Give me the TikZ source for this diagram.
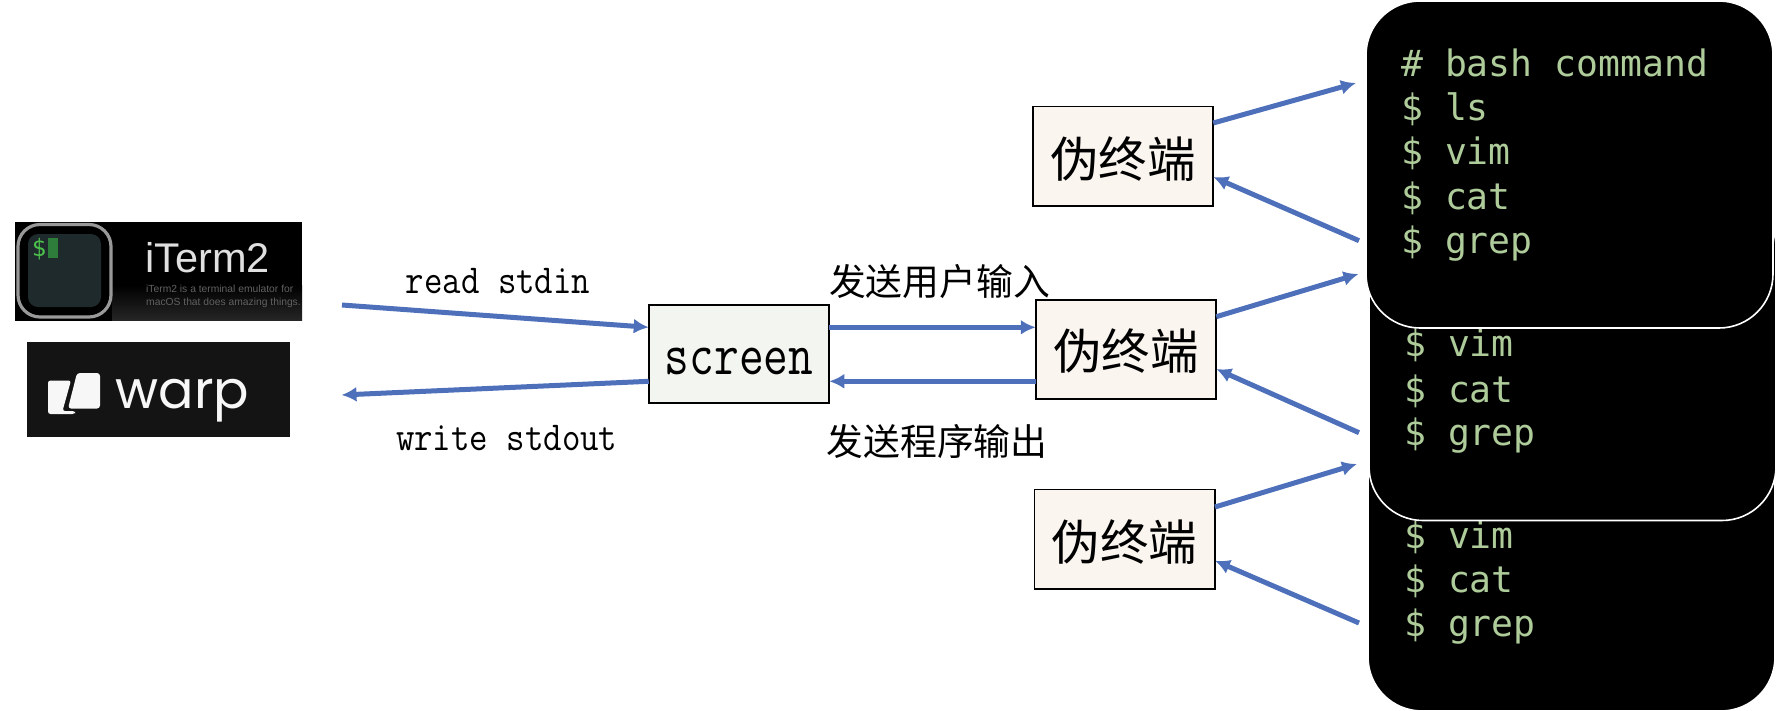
\documentclass[tikz,border=0pt]{standalone}
\usepackage{graphicx}
\usepackage{fontspec}
\usetikzlibrary{arrows.meta}
\newfontfamily\cjkfont{Noto Sans CJK SC}
\newfontfamily\termfont{DejaVu Sans Mono}
\newfontfamily\arialfont{Liberation Sans}
\newfontfamily\warpfont{Poppins}
\definecolor{flowblue}{HTML}{4E70BA}
\definecolor{ptyfill}{HTML}{FBF5F0}
\definecolor{screenfill}{HTML}{F3F6F0}
\definecolor{termgreen}{HTML}{AECB9A}
\definecolor{iconpanel}{HTML}{1F2A2C}
\definecolor{icondollar}{HTML}{4CC24C}
\definecolor{iconcursor}{HTML}{2F7D3A}
\tikzset{
  x=1pt,y=-1pt,
  flow/.style={draw=flowblue,line width=5pt,-{Latex[length=15pt,width=15pt]}},
  boxnode/.style={draw=black,line width=1.7pt,inner sep=0pt,outer sep=0pt,minimum width=#1},
  ptybox/.style={boxnode=180.5pt,minimum height=99.5pt,fill=ptyfill,font=\cjkfont\fontsize{48.5}{48.5}\selectfont},
  screenbox/.style={boxnode=180.5pt,minimum height=98pt,fill=screenfill,font=\ttfamily\fontsize{48}{48}\selectfont},
  termbox/.style={fill=black,draw=white,line width=1.6pt,rounded corners=54pt,inner sep=0pt,outer sep=0pt,minimum width=407pt,minimum height=327pt},
  termline/.style={anchor=base west,inner sep=0pt,text=termgreen,font=\termfont\fontsize{36.4}{36.4}\selectfont},
  monolabel/.style={inner sep=0pt,font=\ttfamily\fontsize{35.8}{35.8}\selectfont},
  cjklabel/.style={inner sep=0pt,font=\cjkfont\fontsize{36.8}{36.8}\selectfont},
  logobg/.style={inner sep=0pt,outer sep=0pt},
}
\newcommand{\tallertext}[2][1.15]{\scalebox{1}[#1]{#2}}
\newcommand{\dropbase}[2]{\raisebox{#1}[0pt][0pt]{#2}}
\begin{document}
\begin{tikzpicture}
\useasboundingbox (0,0) rectangle (1786,710);
% iTerm2 logo
\node[logobg,fill=black,minimum width=287pt,minimum height=98.7pt] (itermbg) at (158.5,271.3) {};
\shade[top color=black,bottom color=black!85!white] (112,285) rectangle (302,320.6);
\draw[line width=3.2pt,draw=black!40!white,fill=black,rounded corners=22pt] (18,224.5) rectangle (111,317);
\fill[iconpanel,rounded corners=10pt] (28,234) rectangle (101,307);
\node[inner sep=0pt,text=icondollar,font=\termfont\fontsize{24}{24}\selectfont] (dollar) at (39,249) {\$};
\fill[iconcursor] (48,238) rectangle (58,258);
\node[anchor=base west,inner sep=0pt,text=black!12!white,font=\arialfont\fontsize{41.5}{41.5}\selectfont] (itermname) at (145,272) {iTerm2};
\node[anchor=base west,inner sep=0pt,text=black!62!white,font=\arialfont\fontsize{10.3}{10.3}\selectfont] (itermsub1) at (146,292) {iTerm2 is a terminal emulator for};
\node[anchor=base west,inner sep=0pt,text=black!62!white,font=\arialfont\fontsize{10.3}{10.3}\selectfont] (itermsub2) at (146,305) {macOS that does amazing things.};
% warp logo
\node[logobg,fill=black!92!white,minimum width=263pt,minimum height=94.7pt] (warpbg) at (158.5,389.3) {};
\fill[black!3!white,rounded corners=2.5pt] (48,380.5) -- (71,380.5) -- (62.5,411) -- (75,411) -- (75,414) -- (48,414) -- cycle;
\fill[black!3!white,rounded corners=3pt] (77,373) -- (100,373) -- (100,408.5) -- (68,408.5) -- cycle;
\node[anchor=base west,inner sep=0pt,text=black!3!white,font=\warpfont\fontsize{52.5}{52.5}\selectfont] (warpname) at (115.5,408) {warp};
% terminals
\node[termbox] (term3) at (1571.5,547.5) {};
\node[termline] (t3a) at (1404,548) {\$ vim};
\node[termline] (t3b) at (1404,592.5) {\$ cat};
\node[termline] (t3c) at (1404,636) {\$ grep};
\node[termbox] (term2) at (1572.5,357) {};
\node[termline] (t2a) at (1404,356.5) {\$ vim};
\node[termline] (t2b) at (1404,402) {\$ cat};
\node[termline] (t2c) at (1404,445.5) {\$ grep};
\node[termbox] (term1) at (1569.5,164.5) {};
\node[termline] (t1a) at (1401,76.5) {\# bash command};
\node[termline] (t1b) at (1401,120.5) {\$ ls};
\node[termline] (t1c) at (1401,164.5) {\$ vim};
\node[termline] (t1d) at (1401,209.5) {\$ cat};
\node[termline] (t1e) at (1401,253.5) {\$ grep};
% boxes
\node[screenbox] (screen) at (739,354) {\dropbase{-20pt}{\tallertext[1.25]{screen}}};
\node[ptybox] (pty1) at (1123,156.2) {\dropbase{-21.4pt}{伪终端}};
\node[ptybox] (pty2) at (1126,349.5) {\dropbase{-20.4pt}{伪终端}};
\node[ptybox] (pty3) at (1124.7,539.2) {\dropbase{-21.4pt}{伪终端}};
% free ends of connectors
\coordinate (readstart) at (342,305);
\coordinate (writeend) at (341.5,395);
\coordinate (t1in) at (1356,83);
\coordinate (t1out) at (1359,240.7);
\coordinate (t2in) at (1358.5,274);
\coordinate (t2out) at (1359,432.7);
\coordinate (t3in) at (1357,464);
\coordinate (t3out) at (1359,623);
\coordinate (scr-in) at (screen.west |- 0,327.3);
\coordinate (scr-out) at (screen.west |- 0,381.3);
\coordinate (scr-r1) at (screen.east |- 0,327.3);
\coordinate (scr-r2) at (screen.east |- 0,381.3);
\coordinate (p2-l1) at (pty2.west |- 0,327.3);
\coordinate (p2-l2) at (pty2.west |- 0,381.3);
\coordinate (p1-o) at (pty1.east |- 0,123);
\coordinate (p1-i) at (pty1.east |- 0,177);
\coordinate (p2-o) at (pty2.east |- 0,316.7);
\coordinate (p2-i) at (pty2.east |- 0,369);
\coordinate (p3-o) at (pty3.east |- 0,507);
\coordinate (p3-i) at (pty3.east |- 0,560.7);
% connectors
\draw[flow] (readstart) -- (scr-in);
\draw[flow] (scr-out) -- (writeend);
\draw[flow] (scr-r1) -- (p2-l1);
\draw[flow] (p2-l2) -- (scr-r2);
\draw[flow] (p1-o) -- (t1in);
\draw[flow] (t1out) -- (p1-i);
\draw[flow] (p2-o) -- (t2in);
\draw[flow] (t2out) -- (p2-i);
\draw[flow] (p3-o) -- (t3in);
\draw[flow] (t3out) -- (p3-i);
% labels
\node[monolabel] (readlabel) at (498,281) {\tallertext{read stdin}};
\node[monolabel] (writelabel) at (506.7,438) {\tallertext{write stdout}};
\node[cjklabel] (inlabel) at (939.5,282) {发送用户输入};
\node[cjklabel] (outlabel) at (937,441.5) {发送程序输出};
\end{tikzpicture}
\end{document}
